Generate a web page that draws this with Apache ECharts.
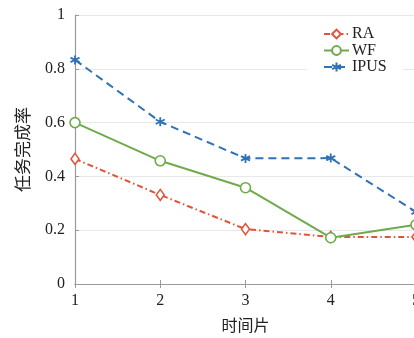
<!DOCTYPE html>
<html><head><meta charset="utf-8">
<script src="https://cdn.jsdelivr.net/npm/echarts@6/dist/echarts.min.js"></script>
<style>html,body{margin:0;padding:0;overflow:hidden;background:#fff;width:414px;height:338px}#c{width:432px;height:338px}</style>
</head><body><div id="c"></div>
<script>
const categories = ['1','2','3','4','5'];
const yTicks = [0, 0.2, 0.4, 0.6, 0.8, 1];
const seriesNames = ['RA','WF','IPUS'];
const RA = [0.465, 0.331, 0.204, 0.175, 0.175];
const WF = [0.600, 0.458, 0.358, 0.172, 0.220];
const IPUS = [0.833, 0.603, 0.467, 0.468, 0.268];

const serif = '"Liberation Serif","DejaVu Serif",serif';
const cjk = '"Noto Sans CJK SC",sans-serif';
const axisColor = '#9a9a9a';
const colors = {RA:'#e0553a', WF:'#6fab4b', IPUS:'#2f72b6'};
const asterisk = 'path://M5,0L5,10M0.7,2.5L9.3,7.5M0.7,7.5L9.3,2.5';

const chart = echarts.init(document.getElementById('c'), null, {renderer:'canvas'});
chart.setOption({
  animation:false,
  backgroundColor:'#fff',
  grid:{left:75, right:16, top:15, bottom:54, outerBoundsMode:'none', containLabel:false},
  legend:{
    left:307, top:24, orient:'vertical', itemGap:0.5, itemWidth:25, itemHeight:11,
    padding:[2,16,2,16], backgroundColor:'#fff',
    textStyle:{fontFamily:serif, fontSize:16, lineHeight:14, color:'#222', padding:[0,0,0,-2]},
    data:seriesNames
  },
  xAxis:[{
    type:'category', data:categories, boundaryGap:false,
    name:'时间片', nameLocation:'middle', nameGap:33,
    nameTextStyle:{fontFamily:cjk, fontSize:16, color:'#222'},
    axisLine:{lineStyle:{color:axisColor, width:1.2}},
    axisTick:{inside:true, length:4, lineStyle:{color:axisColor}},
    axisLabel:{fontFamily:serif, fontSize:16, color:'#222', margin:9},
    splitLine:{show:false}
  },{
    type:'category', data:categories, boundaryGap:false, position:'top',
    axisLine:{show:true, lineStyle:{color:axisColor, width:1.2}},
    axisTick:{inside:true, length:4, lineStyle:{color:axisColor}},
    axisLabel:{show:false}, splitLine:{show:false}
  }],
  yAxis:[{
    type:'value', min:0, max:1, interval:0.2,
    name:'任务完成率', nameLocation:'middle', nameGap:44, nameRotate:90,
    nameTextStyle:{fontFamily:cjk, fontSize:17, color:'#222'},
    axisLine:{show:true, lineStyle:{color:axisColor, width:1.2}},
    axisTick:{show:true, inside:true, length:4, lineStyle:{color:axisColor}},
    axisLabel:{fontFamily:serif, fontSize:16, color:'#222', margin:10,
      formatter:v=>{const t=yTicks.find(x=>Math.abs(x-v)<1e-9);return t===undefined?'':String(t);}},
    splitLine:{show:true, lineStyle:{color:'#e8e8e8', width:1}}
  },{
    type:'value', min:0, max:1, interval:0.2, position:'right',
    axisLine:{show:true, lineStyle:{color:axisColor, width:1.2}},
    axisTick:{show:false}, axisLabel:{show:false}, splitLine:{show:false}
  }],
  series:[
    {name:'RA', type:'line', data:RA, symbol:'diamond', symbolSize:[8,11],
     lineStyle:{color:colors.RA, width:2, type:[6,3,1.5,3]},
     itemStyle:{color:'#fff', borderColor:colors.RA, borderWidth:1.6}, z:3},
    {name:'WF', type:'line', data:WF, symbol:'circle', symbolSize:10,
     lineStyle:{color:colors.WF, width:2, type:'solid'},
     itemStyle:{color:'#fff', borderColor:colors.WF, borderWidth:1.6}, z:4},
    {name:'IPUS', type:'line', data:IPUS, symbol:asterisk, symbolSize:9,
     lineStyle:{color:colors.IPUS, width:2, type:[8,5]},
     itemStyle:{color:colors.IPUS, borderColor:colors.IPUS, borderWidth:1.8}, z:5}
  ]
});
</script></body></html>
